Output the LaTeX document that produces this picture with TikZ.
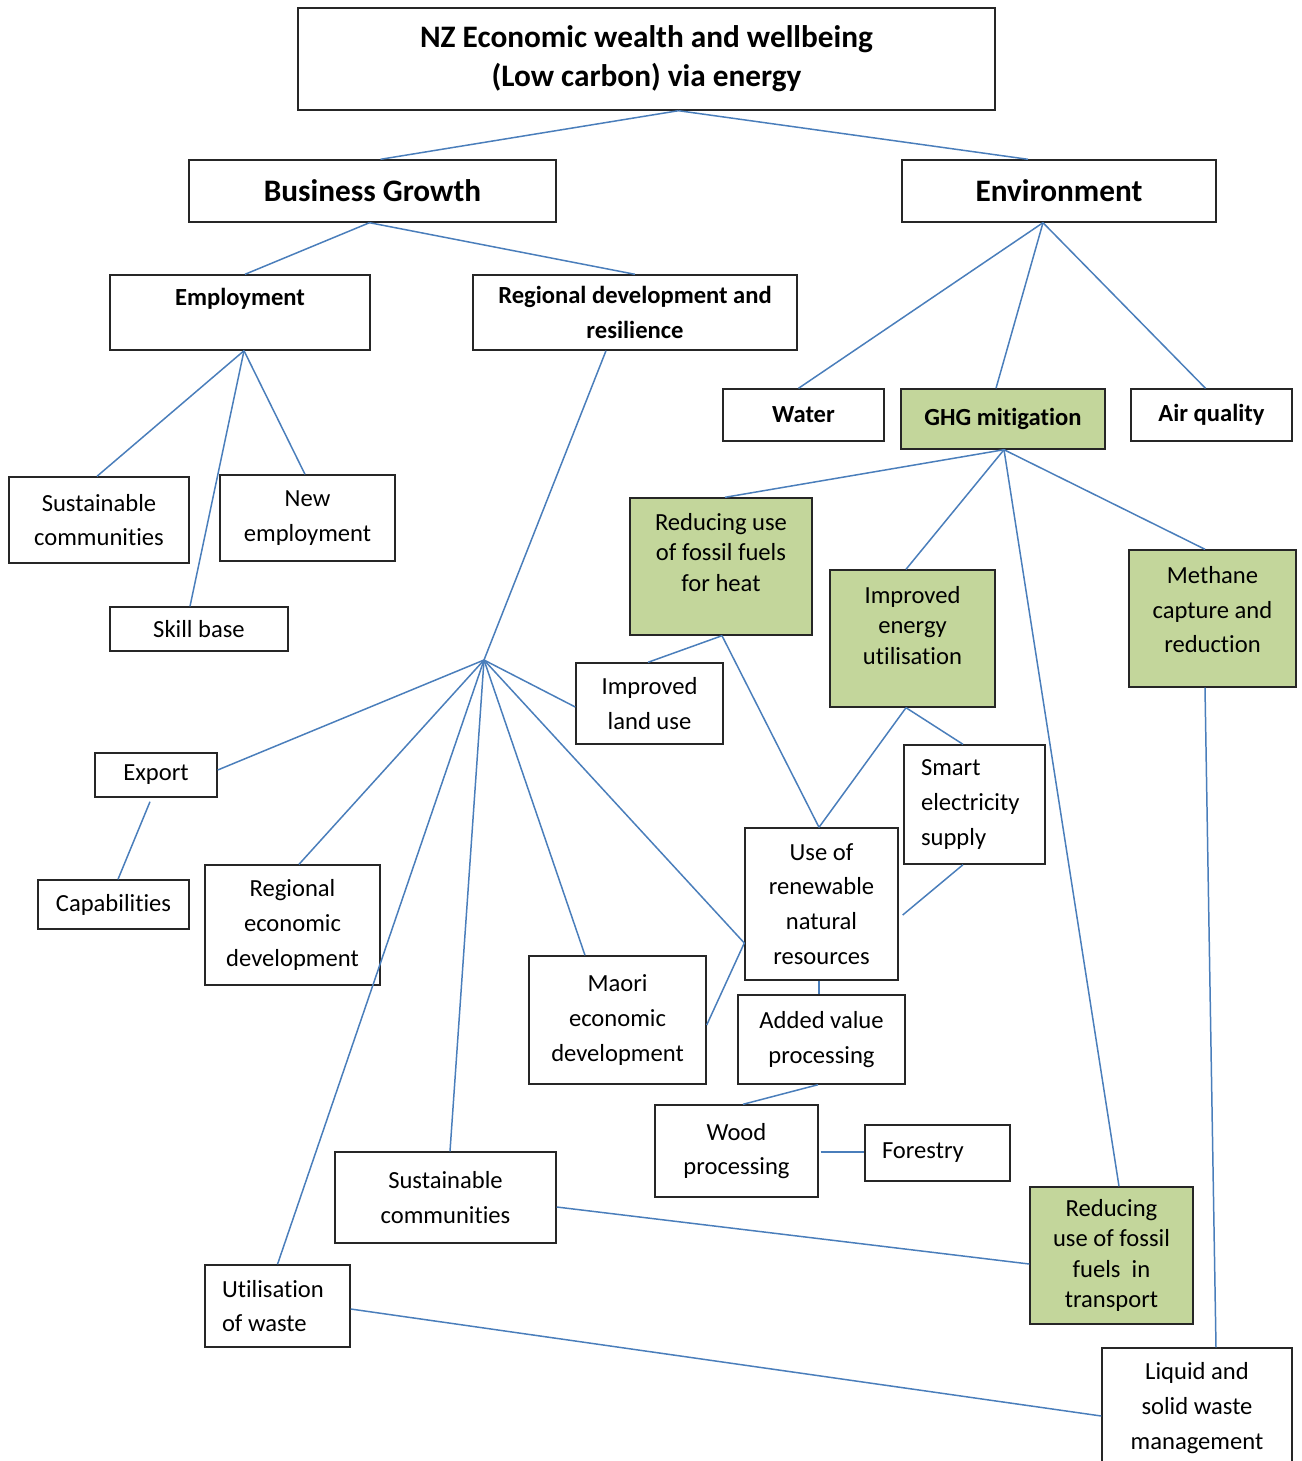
\documentclass[tikz,border=0pt]{standalone}
\usepackage{fontspec}
\setmainfont{Carlito}[Ligatures=NoCommon]
\usetikzlibrary{calc}
\definecolor{link}{RGB}{74, 126, 187}
\definecolor{ghg}{RGB}{195, 214, 155}

\begin{document}
\begin{tikzpicture}[
    x=0.02cm, y=-0.02cm,
    box/.style 2 args={
        rectangle, draw=black!85, fill=white,
        line width=0.8pt, inner sep=0pt, align=center,
        minimum width=#1*0.02cm, minimum height=#2*0.02cm,
        font=\fontsize{14}{19.85}\selectfont,
    },
    big/.style={font=\fontsize{17.8}{22.1}\selectfont\bfseries},
    head/.style={font=\fontsize{14}{19.85}\selectfont\bfseries},
    tight/.style={font=\fontsize{14}{17.4}\selectfont},
    green/.style={fill=ghg},
    leftbox/.style={align=flush left, text width=#1*0.02cm, inner xsep=0.34cm},
    link/.style={draw=link, line width=0.85pt},
]

\useasboundingbox (0,0) rectangle (1302,1461);
\clip (0,0) rectangle (1302,1461);

% =============== Top levels ===============
\node[box={697}{102}, big] (title) at (646.5,59)
    {NZ Economic wealth and wellbeing\\(Low carbon) via energy};
\node[box={367}{62}, big] (bg) at (372.5,191) {Business Growth};
\node[box={314}{62}, big] (env) at (1059,191) {Environment};

% =============== Business growth branch ===============
\node[box={260}{75}, head] (emp) at (240,312.5) {Employment\\[-2pt]\mbox{}};
\node[box={324}{75}, head] (regdev) at (635,312.5)
    {Regional development and\\resilience};
\node[box={180}{86}] (sustA) at (99,520) {Sustainable\\communities};
\node[box={175}{86}] (newemp) at (307.5,518) {New\\employment};
\node[box={178}{44}] (skill) at (199,629) {Skill base};

% fan-out point below regional development
\coordinate (hub) at (484,660);

\node[box={147}{81}] (landuse) at (649.5,703.5) {Improved\\land use};
\node[box={122}{44}] (export) at (156,775) {Export};
\node[box={151}{49}] (capab) at (113.5,904.5) {Capabilities};
\node[box={175}{120}] (regecon) at (292.5,925)
    {Regional\\economic\\development};
\node[box={177}{128}] (maori) at (617.5,1020)
    {Maori\\economic\\development};
\node[box={221}{91}] (sustB) at (445.5,1197.5) {Sustainable\\communities};
\node[box={145}{82}, leftbox=111] (waste) at (277.5,1306)
    {Utilisation\\of waste};

% =============== Environment branch ===============
\node[box={161}{52}, head] (water) at (803.5,415) {Water};
\node[box={204}{60}, head, green] (ghg) at (1003,419) {GHG mitigation};
\node[box={161}{52}, head] (air) at (1211.5,415) {Air quality};

\node[box={182}{137}, tight, green] (heat) at (721,566.5)
    {Reducing use\\of fossil fuels\\for heat\\[-1.4pt]\mbox{}};
\node[box={165}{137}, tight, green] (energy) at (912.5,638.5)
    {Improved\\energy\\utilisation\\[-2.3pt]\mbox{}};
\node[box={167}{137}, green] (methane) at (1212.5,618.5)
    {Methane\\capture and\\reduction\\[-9.6pt]\mbox{}};
\node[box={141}{119}, leftbox=107] (smart) at (974.5,804.5)
    {Smart\\electricity\\supply};
\node[box={153}{152}] (renew) at (821.5,904)
    {Use of\\renewable\\natural\\resources};
\node[box={167}{89}] (added) at (821.5,1039.5) {Added value\\processing};
\node[box={163}{92}] (wood) at (736.5,1151) {Wood\\processing};
\node[box={145}{56}, leftbox=111] (forestry) at (937.5,1153) {Forestry};
\node[box={163}{137}, tight, green] (transport) at (1111.5,1255.5)
    {Reducing\\use of fossil\\fuels~ in\\transport};
\node[box={190}{120}] (liquid) at (1197,1408)
    {Liquid and\\solid waste\\management};

% =============== Connectors ===============
\draw[link] ($(title.south)+(32,0)$) -- ($(bg.north)+(8,0)$);
\draw[link] ($(title.south)+(32,0)$) -- ($(env.north)+(-31,0)$);

\draw[link] ($(bg.south)+(-3,0)$) -- ($(emp.north)+(5,0)$);
\draw[link] ($(bg.south)+(-3,0)$) -- (regdev.north);

\draw[link] ($(emp.south)+(4,0)$) -- ($(sustA.north)+(-2,0)$);
\draw[link] ($(emp.south)+(4,0)$) -- ($(newemp.north)+(-2.5,0)$);
\draw[link] ($(emp.south)+(4,0)$) -- ($(skill.north)+(-9,0)$);

\draw[link] ($(regdev.south)+(-29,0)$) -- (hub);
\draw[link] (hub) -- ($(export.east)+(0,-5)$);
\draw[link] (hub) -- ($(landuse.west)+(0,3.5)$);
\draw[link] (hub) -- ($(regecon.north)+(6.5,0)$);
\draw[link] (hub) -- (waste.north);
\draw[link] (hub) -- ($(sustB.north)+(4.5,0)$);
\draw[link] (hub) -- ($(maori.north)+(-32.5,0)$);
\draw[link] (hub) -- ($(renew.west)+(0,39)$);
\draw[link] ($(export.south)+(-6,4)$) -- ($(capab.north)+(4.5,0)$);

\draw[link] ($(env.south)+(-16,0)$) -- ($(water.north)+(-5,0)$);
\draw[link] ($(env.south)+(-16,0)$) -- ($(ghg.north)+(-7,0)$);
\draw[link] ($(env.south)+(-16,0)$) -- ($(air.north)+(-6,0)$);

\draw[link] ($(ghg.south)+(1,0)$) -- ($(heat.north)+(4,0)$);
\draw[link] ($(ghg.south)+(1,0)$) -- ($(energy.north)+(-6.5,0)$);
\draw[link] ($(ghg.south)+(1,0)$) -- ($(methane.north)+(-7.5,0)$);
\draw[link] ($(ghg.south)+(1,0)$) -- ($(transport.north)+(7.5,0)$);

\draw[link] ($(heat.south)+(1,0)$) -- ($(landuse.north)+(-1.5,0)$);
\draw[link] ($(heat.south)+(1,0)$) -- ($(renew.north)+(-2.5,0)$);
\draw[link] ($(energy.south)+(-6.5,0)$) -- ($(renew.north)+(-2.5,0)$);
\draw[link] ($(energy.south)+(-6.5,0)$) -- ($(smart.north)+(-11.5,0)$);
\draw[link] ($(smart.south)+(-11.5,0)$) -- ($(renew.east)+(4,11)$);

\draw[link] ($(renew.west)+(0,39)$) -- ($(maori.east)+(0,5)$);
\draw[link] ($(renew.south)+(-2.5,0)$) -- ($(added.north)+(-2.5,0)$);
\draw[link] ($(added.south)+(-3.5,0)$) -- ($(wood.north)+(6.5,0)$);
\draw[link] ($(wood.east)+(2,1)$) -- ($(forestry.west)+(0,-1)$);

\draw[link] ($(sustB.east)+(0,9.5)$) -- ($(transport.west)+(0,8.5)$);
\draw[link] ($(waste.east)+(0,3)$) -- ($(liquid.west)+(0,8)$);
\draw[link] ($(methane.south)+(-7.5,0)$) -- ($(liquid.north)+(19,0)$);

\end{tikzpicture}
\end{document}
